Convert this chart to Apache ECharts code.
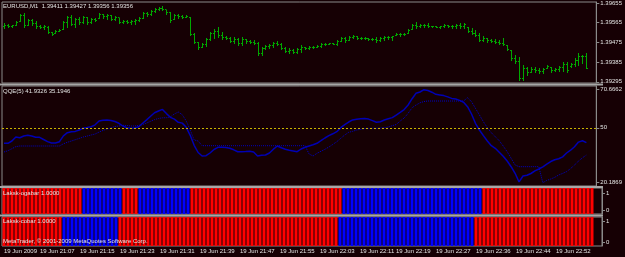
<!DOCTYPE html>
<html><head><meta charset="utf-8">
<script src="https://cdn.jsdelivr.net/npm/echarts@6/dist/echarts.min.js"></script>
<style>html,body{margin:0;padding:0;background:#160004;}#c{width:625px;height:257px;}</style>
</head><body><div id="c"></div>
<script>
// ---- data (EURUSD M1, 148 bars) ----
const openArr=[1.39550,1.39555,1.39550,1.39555,1.39573,1.39600,1.39555,1.39577,1.39564,1.39550,
1.39545,1.39545,1.39523,1.39518,1.39527,1.39536,1.39568,1.39591,1.39559,1.39582,
1.39568,1.39591,1.39568,1.39582,1.39586,1.39605,1.39596,1.39600,1.39582,1.39591,
1.39568,1.39573,1.39568,1.39573,1.39577,1.39586,1.39609,1.39605,1.39618,1.39628,
1.39632,1.39628,1.39614,1.39582,1.39600,1.39596,1.39591,1.39591,1.39513,1.39477,
1.39454,1.39468,1.39491,1.39518,1.39527,1.39509,1.39500,1.39495,1.39481,1.39491,
1.39472,1.39491,1.39481,1.39477,1.39472,1.39427,1.39449,1.39459,1.39463,1.39472,
1.39468,1.39449,1.39436,1.39440,1.39431,1.39445,1.39454,1.39449,1.39454,1.39454,
1.39459,1.39468,1.39468,1.39472,1.39468,1.39481,1.39495,1.39486,1.39500,1.39504,
1.39495,1.39495,1.39495,1.39491,1.39491,1.39486,1.39495,1.39500,1.39500,1.39509,
1.39513,1.39513,1.39518,1.39536,1.39555,1.39550,1.39555,1.39555,1.39550,1.39550,
1.39545,1.39550,1.39555,1.39550,1.39550,1.39555,1.39550,1.39545,1.39527,1.39518,
1.39509,1.39486,1.39495,1.39486,1.39481,1.39477,1.39472,1.39463,1.39440,1.39404,
1.39390,1.39312,1.39358,1.39340,1.39353,1.39349,1.39344,1.39358,1.39363,1.39349,
1.39353,1.39363,1.39376,1.39367,1.39376,1.39395,1.39413,1.39411];
const highArr=[1.39564,1.39559,1.39555,1.39573,1.39605,1.39609,1.39582,1.39582,1.39573,1.39555,
1.39555,1.39550,1.39523,1.39532,1.39536,1.39573,1.39596,1.39600,1.39586,1.39591,
1.39596,1.39591,1.39586,1.39586,1.39609,1.39605,1.39605,1.39600,1.39596,1.39586,
1.39577,1.39577,1.39577,1.39582,1.39591,1.39614,1.39614,1.39623,1.39632,1.39637,
1.39641,1.39623,1.39614,1.39605,1.39605,1.39600,1.39600,1.39591,1.39518,1.39477,
1.39472,1.39495,1.39523,1.39536,1.39545,1.39523,1.39504,1.39500,1.39500,1.39495,
1.39500,1.39491,1.39486,1.39486,1.39477,1.39454,1.39463,1.39468,1.39477,1.39481,
1.39472,1.39454,1.39449,1.39445,1.39449,1.39463,1.39454,1.39459,1.39459,1.39463,
1.39472,1.39472,1.39472,1.39472,1.39486,1.39500,1.39500,1.39504,1.39509,1.39504,
1.39500,1.39500,1.39495,1.39495,1.39500,1.39500,1.39504,1.39504,1.39504,1.39518,
1.39518,1.39518,1.39536,1.39559,1.39568,1.39559,1.39559,1.39564,1.39550,1.39550,
1.39550,1.39559,1.39555,1.39555,1.39559,1.39564,1.39564,1.39545,1.39541,1.39532,
1.39518,1.39504,1.39495,1.39491,1.39491,1.39486,1.39495,1.39463,1.39440,1.39417,
1.39408,1.39372,1.39363,1.39363,1.39363,1.39358,1.39358,1.39372,1.39363,1.39358,
1.39367,1.39385,1.39385,1.39381,1.39404,1.39427,1.39417,1.39427];
const lowArr=[1.39541,1.39545,1.39545,1.39555,1.39573,1.39545,1.39555,1.39555,1.39541,1.39541,
1.39536,1.39518,1.39509,1.39518,1.39527,1.39536,1.39545,1.39555,1.39545,1.39559,
1.39564,1.39559,1.39564,1.39573,1.39586,1.39586,1.39582,1.39577,1.39577,1.39564,
1.39564,1.39564,1.39559,1.39559,1.39573,1.39586,1.39596,1.39600,1.39614,1.39623,
1.39623,1.39605,1.39568,1.39582,1.39586,1.39586,1.39591,1.39509,1.39472,1.39445,
1.39454,1.39459,1.39486,1.39495,1.39500,1.39491,1.39491,1.39477,1.39472,1.39463,
1.39463,1.39472,1.39472,1.39468,1.39417,1.39417,1.39445,1.39449,1.39454,1.39463,
1.39445,1.39431,1.39427,1.39427,1.39427,1.39431,1.39445,1.39445,1.39449,1.39454,
1.39454,1.39463,1.39468,1.39468,1.39463,1.39481,1.39477,1.39486,1.39495,1.39491,
1.39491,1.39491,1.39486,1.39486,1.39477,1.39481,1.39486,1.39491,1.39486,1.39509,
1.39504,1.39509,1.39518,1.39536,1.39541,1.39545,1.39545,1.39545,1.39545,1.39545,
1.39541,1.39545,1.39545,1.39541,1.39541,1.39541,1.39541,1.39523,1.39513,1.39504,
1.39481,1.39481,1.39477,1.39477,1.39472,1.39468,1.39463,1.39440,1.39395,1.39381,
1.39303,1.39303,1.39326,1.39340,1.39340,1.39335,1.39335,1.39358,1.39340,1.39344,
1.39344,1.39344,1.39340,1.39363,1.39367,1.39372,1.39381,1.39356];
const closeArr=[1.39555,1.39550,1.39555,1.39568,1.39600,1.39555,1.39577,1.39564,1.39550,1.39545,
1.39550,1.39523,1.39513,1.39527,1.39532,1.39568,1.39591,1.39559,1.39582,1.39568,
1.39591,1.39568,1.39582,1.39577,1.39605,1.39596,1.39600,1.39582,1.39591,1.39568,
1.39573,1.39568,1.39573,1.39577,1.39586,1.39609,1.39605,1.39618,1.39628,1.39632,
1.39628,1.39614,1.39577,1.39600,1.39596,1.39591,1.39596,1.39513,1.39477,1.39454,
1.39468,1.39491,1.39518,1.39527,1.39509,1.39500,1.39495,1.39481,1.39491,1.39472,
1.39491,1.39481,1.39477,1.39472,1.39427,1.39449,1.39459,1.39463,1.39472,1.39468,
1.39449,1.39436,1.39440,1.39431,1.39445,1.39454,1.39449,1.39454,1.39454,1.39459,
1.39468,1.39468,1.39472,1.39468,1.39481,1.39495,1.39486,1.39500,1.39504,1.39495,
1.39495,1.39495,1.39491,1.39491,1.39486,1.39495,1.39500,1.39500,1.39504,1.39513,
1.39513,1.39513,1.39532,1.39555,1.39550,1.39555,1.39555,1.39550,1.39550,1.39545,
1.39550,1.39555,1.39550,1.39550,1.39555,1.39550,1.39559,1.39527,1.39518,1.39509,
1.39486,1.39495,1.39486,1.39481,1.39477,1.39472,1.39468,1.39445,1.39404,1.39390,
1.39312,1.39358,1.39340,1.39353,1.39349,1.39344,1.39353,1.39367,1.39349,1.39353,
1.39363,1.39376,1.39349,1.39376,1.39395,1.39413,1.39411,1.39356];
const bidPrice=1.39356;
const qqeMain=[41.57,41.57,42.82,44.99,44.61,45.53,45.91,45.53,44.83,44.83,
43.63,42.49,41.73,41.73,42.44,45.64,47.33,47.87,48.03,48.79,
49.77,50.15,50.58,51.61,53.68,54.11,54.22,54.00,53.40,52.43,
50.96,50.04,49.71,49.87,50.58,52.48,54.27,56.23,58.13,59.10,
59.97,57.69,55.68,54.71,52.97,52.53,50.26,45.91,40.48,36.58,
34.68,34.84,36.31,38.21,39.40,39.40,39.29,38.91,38.04,37.01,
37.01,37.06,37.23,36.85,34.68,35.11,35.22,36.31,38.37,40.11,
39.13,38.31,37.77,37.45,37.01,38.48,39.40,40.11,40.81,41.57,
42.98,44.45,45.70,46.73,47.87,50.04,51.67,53.13,54.27,54.60,
54.93,55.03,54.71,53.89,52.97,53.24,54.22,54.93,55.52,56.93,
58.35,59.86,62.36,65.78,68.71,69.42,70.6662,70.20,69.31,68.17,
67.84,67.46,66.76,65.94,65.62,64.86,63.83,61.44,57.48,52.43,
48.79,45.75,42.82,40.27,38.86,36.69,34.51,31.96,28.87,25.29,
20.60,23.82,24.25,25.18,26.59,27.62,28.76,30.23,31.69,32.67,
33.21,34.19,36.31,37.83,39.73,42.22,42.93,41.9326];
const qqeSignal=[36.85,37.55,38.64,39.78,40.11,40.11,40.11,40.11,40.11,40.11,
40.11,40.11,40.11,40.11,40.11,41.30,42.12,42.82,43.53,44.23,
44.99,45.53,46.08,46.62,47.65,48.57,49.33,50.04,50.69,50.96,
51.34,51.23,50.96,50.96,51.23,51.77,52.59,53.51,54.44,55.03,
55.41,55.47,55.90,57.48,58.56,57.09,53.68,48.79,43.36,42.82,
40.27,40.27,40.27,40.27,40.27,40.27,40.27,40.27,40.27,40.27,
40.27,40.27,40.27,40.27,40.27,40.27,40.27,40.27,40.27,40.27,
40.27,40.27,40.27,40.27,40.27,40.27,40.27,35.76,34.68,36.14,
37.23,38.31,39.56,40.97,42.44,44.28,46.08,47.54,48.08,48.79,
49.17,49.55,49.71,49.71,49.71,49.87,49.98,50.42,51.13,51.77,
53.68,55.30,57.86,60.89,62.36,63.55,64.26,64.53,64.53,64.53,
64.53,64.53,64.53,64.53,64.53,64.53,64.53,66.32,64.15,60.57,
56.93,53.30,50.04,47.33,45.15,42.98,40.11,37.01,33.43,29.79,
28.87,28.87,28.87,28.87,28.87,28.87,20.1869,21.43,22.19,23.11,
24.37,25.23,26.21,27.84,29.79,31.91,33.70,35.1946];
// 1 = blue bar, 0 = red bar
const ogabarBlue=[0,0,0,0,0,0,0,0,0,0,0,0,0,0,0,0,0,0,0,0,
1,1,1,1,1,1,1,1,1,1,0,0,0,0,1,1,1,1,1,1,
1,1,1,1,1,1,1,0,0,0,0,0,0,0,0,0,0,0,0,0,
0,0,0,0,0,0,0,0,0,0,0,0,0,0,0,0,0,0,0,0,
0,0,0,0,0,1,1,1,1,1,1,1,1,1,1,1,1,1,1,1,
1,1,1,1,1,1,1,1,1,1,1,1,1,1,1,1,1,1,1,1,
0,0,0,0,0,0,0,0,0,0,0,0,0,0,0,0,0,0,0,0,
0,0,0,0,0,0,0,0];
const cobarBlue=[0,0,0,0,0,0,0,0,0,0,0,0,0,0,0,1,1,1,1,1,
1,1,1,1,1,1,1,1,1,0,0,0,0,0,0,0,0,0,0,0,
0,0,0,0,0,0,0,0,0,0,0,0,0,0,0,0,0,0,0,0,
0,0,0,0,0,0,0,0,0,0,0,0,0,0,0,0,0,0,0,0,
0,0,0,0,1,1,1,1,1,1,1,1,1,1,1,1,1,1,1,1,
1,1,1,1,1,1,1,1,1,1,1,1,1,1,1,1,1,1,0,0,
0,0,0,0,0,0,0,0,0,0,0,0,0,0,0,0,0,0,0,0,
0,0,0,0,0,0,0,0];
const tickIndex=[0,9,19,29,39,49,59,69,79,89,98,108,118,128,138];
const tickText=['19 Jun 2009','19 Jun 21:07','19 Jun 21:15','19 Jun 21:23','19 Jun 21:31','19 Jun 21:39','19 Jun 21:47','19 Jun 21:55','19 Jun 22:03','19 Jun 22:11','19 Jun 22:19','19 Jun 22:27','19 Jun 22:36','19 Jun 22:44','19 Jun 22:52'];
const priceTicks=[1.39295,1.39385,1.39475,1.39565,1.39655];
const qqeTicks=[20.1869,50,70.6662];
const histTicks=[0,1];

// ---- chart ----
const FONT='Liberation Sans', TXT='#e4e4e4', BG='#160004', AX='#8a8a8a';
const GREEN='#00a800', LINEBLUE='#0000b4', RED='#ff0000', BLUE='#0000ff';
const nCat=150;
const cats=Array.from({length:nCat},(_,i)=>String(i));
const labelAt={}; tickIndex.forEach((k,j)=>{labelAt[k]=tickText[j];});
const chart=echarts.init(document.getElementById('c'),null,{renderer:'canvas',width:625,height:257});

const grids=[
  {left:2,top:2,width:600,height:81},
  {left:2,top:86,width:600,height:100},
  {left:2,top:188,width:600,height:26},
  {left:2,top:217,width:600,height:29}
].map(g=>Object.assign(g,{show:true,backgroundColor:BG,borderColor:AX,borderWidth:1}));

function xAx(g,bottom){
  return {type:'category',gridIndex:g,data:cats,boundaryGap:true,
    axisLine:{show:false},
    axisTick:bottom?{show:true,interval:(i)=>labelAt[i]!==undefined,alignWithLabel:true,length:3,lineStyle:{color:'#bdbdbd'}}:{show:false},
    axisLabel:bottom?{show:true,interval:(i)=>labelAt[i]!==undefined,formatter:(v,i)=>labelAt[i]||'',align:'left',
      color:TXT,fontSize:6,fontFamily:FONT,margin:2}:{show:false},
    splitLine:{show:false}};
}
function yAx(g,min,max,ticks,fmt){
  return {type:'value',gridIndex:g,position:'right',min:min,max:max,
    axisLine:{show:true,lineStyle:{color:AX}},
    axisTick:{show:true,length:3,lineStyle:{color:AX},customValues:ticks},
    axisLabel:{show:true,customValues:ticks,formatter:fmt,color:TXT,fontSize:6,fontFamily:FONT,margin:4},
    splitLine:{show:false}};
}
const ohlc=highArr.map((h,i)=>[i,openArr[i],h,lowArr[i],closeArr[i]]);
const titleStyle={fontSize:6,color:TXT,fontWeight:'normal',fontFamily:FONT};

chart.setOption({
  backgroundColor:BG,
  animation:false,
  grid:grids,
  title:[
    {text:'EURUSD,M1  1.39411 1.39427 1.39356 1.39356',left:3,top:3,padding:0,textStyle:titleStyle},
    {text:'QQE(5) 41.9326 35.1946',left:3,top:88,padding:0,textStyle:titleStyle},
    {text:'Laksk-ogabar 1.0000',left:3,top:190,padding:0,textStyle:titleStyle},
    {text:'Laksk-cobar 1.0000',left:3,top:218,padding:0,textStyle:titleStyle},
    {text:'MetaTrader, \u00a9 2001-2009 MetaQuotes Software Corp.',left:3,top:238,padding:0,textStyle:titleStyle}
  ],
  xAxis:[xAx(0,false),xAx(1,false),xAx(2,false),xAx(3,true)],
  yAxis:[
    yAx(0,1.392895,1.396596,priceTicks,v=>v.toFixed(5)),
    yAx(1,18.396,72.674,qqeTicks,v=>v===50?'50':v.toFixed(4)),
    yAx(2,-0.1864,1.2825,histTicks,v=>String(Math.round(v))),
    {type:'value',gridIndex:2,min:0,max:1,show:false},
    yAx(3,-0.174,1.188,histTicks,v=>String(Math.round(v))),
    {type:'value',gridIndex:3,min:0,max:1,show:false}
  ],
  graphic:[
    {type:'rect',shape:{x:0,y:83.5,width:603,height:2},style:{fill:'#a6a6a6'},z:100},
    {type:'rect',shape:{x:0,y:186,width:603,height:2},style:{fill:'#a6a6a6'},z:100},
    {type:'rect',shape:{x:0,y:214.5,width:603,height:2},style:{fill:'#a6a6a6'},z:100}
  ],
  series:[
    {type:'custom',xAxisIndex:0,yAxisIndex:0,data:ohlc,encode:{x:0,y:[1,2,3,4]},
      renderItem:function(params,api){
        const i=api.value(0);
        const o=api.coord([i,api.value(1)]), h=api.coord([i,api.value(2)]),
              l=api.coord([i,api.value(3)]), c=api.coord([i,api.value(4)]);
        const x=Math.round(h[0])+0.5;
        const st={stroke:GREEN,lineWidth:1};
        return {type:'group',children:[
          {type:'line',shape:{x1:x,y1:Math.round(h[1]),x2:x,y2:Math.round(l[1])+1},style:st},
          {type:'line',shape:{x1:x-1.5,y1:Math.round(o[1])+0.5,x2:x,y2:Math.round(o[1])+0.5},style:st},
          {type:'line',shape:{x1:x,y1:Math.round(c[1])+0.5,x2:x+1.5,y2:Math.round(c[1])+0.5},style:st}
        ]};
      },
      markLine:{silent:true,symbol:'none',animation:false,
        lineStyle:{color:'#7c7c7c',type:'solid',width:1},
        label:{show:true,position:'end',formatter:bidPrice.toFixed(5),backgroundColor:'#ffffff',color:'#000000',
          fontSize:6,fontFamily:FONT,padding:[1,1,0,1],distance:5},
        data:[{yAxis:bidPrice}]}
    },
    {type:'line',xAxisIndex:1,yAxisIndex:1,data:qqeMain,showSymbol:false,symbol:'none',
      lineStyle:{color:LINEBLUE,width:1.5},z:3,
      markLine:{silent:true,symbol:'none',animation:false,label:{show:false},
        lineStyle:{color:'#c8b400',type:[2,2],width:1},data:[{yAxis:50}]}},
    {type:'line',xAxisIndex:1,yAxisIndex:1,data:qqeSignal,showSymbol:false,symbol:'none',
      lineStyle:{color:'#0000c8',width:1,type:[1,1]},z:2},
    {type:'bar',xAxisIndex:2,yAxisIndex:3,barWidth:3,
      data:ogabarBlue.map(b=>({value:1,itemStyle:{color:b?BLUE:RED}}))},
    {type:'bar',xAxisIndex:3,yAxisIndex:5,barWidth:3,
      data:cobarBlue.map(b=>({value:1,itemStyle:{color:b?BLUE:RED}}))}
  ]
});
</script></body></html>
